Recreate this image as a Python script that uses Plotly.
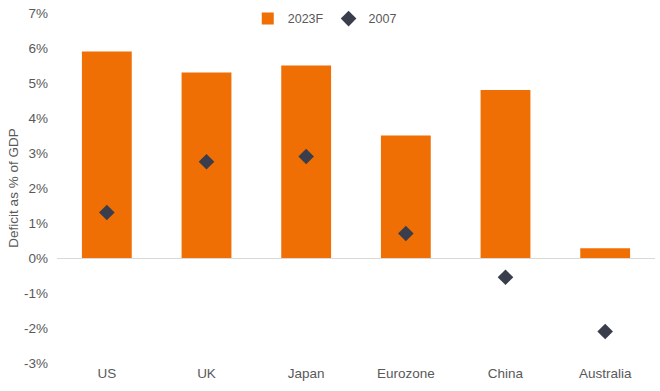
import plotly.graph_objects as go

categories = ["US", "UK", "Japan", "Eurozone", "China", "Australia"]
deficit_2023f = [5.9, 5.3, 5.5, 3.5, 4.8, 0.28]
deficit_2007 = [1.3, 2.75, 2.9, 0.7, -0.55, -2.1]
y_ticks = [-3, -2, -1, 0, 1, 2, 3, 4, 5, 6, 7]
y_tick_labels = [f"{v}%" for v in y_ticks]

font = dict(family="Liberation Sans, Arial, sans-serif", size=13.5, color="#595959")

fig = go.Figure()
fig.add_trace(go.Bar(x=categories, y=deficit_2023f, name="2023F",
                     marker=dict(color="#EF6F04", line=dict(width=0)), width=0.5))
fig.add_trace(go.Scatter(x=categories, y=deficit_2007, name="2007", mode="markers",
                         marker=dict(symbol="diamond", size=12, color="#3A3E4C")))

fig.update_layout(
    width=660, height=391,
    margin=dict(l=57, r=5, t=13, b=28, autoexpand=False),
    paper_bgcolor="white", plot_bgcolor="white",
    font=font,
    showlegend=True,
    legend=dict(orientation="h", x=0.319, xanchor="left", y=0.983, yanchor="middle",
                font=dict(size=12.5, color="#595959"), bgcolor="rgba(0,0,0,0)",
                itemwidth=30, tracegroupgap=0),
    bargap=0.5,
)
fig.update_xaxes(showgrid=False, showline=False, ticks="", tickfont=font, automargin=False)
fig.update_yaxes(range=[-3, 7], tickvals=y_ticks, ticktext=y_tick_labels,
                 showgrid=False, zeroline=True, zerolinecolor="#D9D9D9", zerolinewidth=1,
                 showline=False, ticks="", tickfont=font, automargin=False,
                 ticklabeloverflow="allow", ticklabelstandoff=8,
                 title=dict(text="Deficit as % of GDP", font=font, standoff=2))

fig.write_html("out.html", config={"displayModeBar": False},
               post_script="document.body.style.margin='0';")
